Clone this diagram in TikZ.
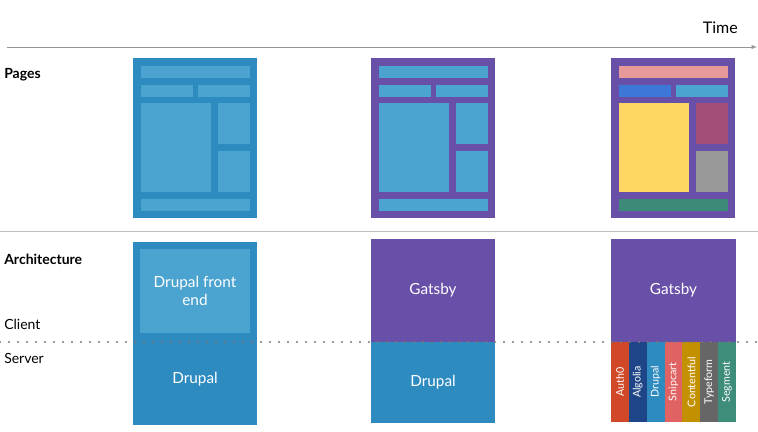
\documentclass[tikz,border=0pt]{standalone}
\usepackage{fontspec}
\setmainfont{Lato}
\usetikzlibrary{arrows.meta}
\definecolor{drupalblue}{RGB}{46,139,192}
\definecolor{liteblue}{RGB}{75,163,208}
\definecolor{gatsbypurple}{RGB}{104,79,167}
\definecolor{axisgray}{RGB}{150,150,150}
\definecolor{rulegray}{RGB}{190,190,190}
\definecolor{dotgray}{RGB}{120,120,120}
\definecolor{pinkbar}{RGB}{232,153,154}
\definecolor{navblue}{RGB}{61,120,216}
\definecolor{yellowblock}{RGB}{253,214,99}
\definecolor{plumblock}{RGB}{163,78,120}
\definecolor{grayblock}{RGB}{153,153,153}
\definecolor{greenbar}{RGB}{62,138,120}
\definecolor{authred}{RGB}{209,72,40}
\definecolor{algoliablue}{RGB}{30,69,135}
\definecolor{snipred}{RGB}{225,98,98}
\definecolor{contentgold}{RGB}{194,144,0}
\definecolor{typegray}{RGB}{102,102,102}
\definecolor{segmentgreen}{RGB}{62,140,122}

\begin{document}
\begin{tikzpicture}[x=0.75pt, y=-0.75pt,
  dim/.style 2 args={minimum width=#1*0.75pt, minimum height=#2*0.75pt},
  block/.style={inner sep=0pt, outer sep=0pt, anchor=north west},
  rowlabel/.style={anchor=west, inner sep=0pt, font=\fontsize{10.5}{12}\selectfont},
  heading/.style={rowlabel, font=\fontsize{10.5}{12}\selectfont\bfseries},
  archtext/.style={text=white, align=center, font=\fontsize{11.5}{14}\selectfont},
  service/.style={inner sep=0pt, outer sep=0pt, rotate=90, text=white, font=\fontsize{8}{9}\selectfont}
]
\useasboundingbox (0,0) rectangle (758,432);

% time axis
\coordinate (t0) at (7,47);
\coordinate (t1) at (757,47);
\draw[axisgray, -{Latex[length=4pt,width=3pt]}] (t0) -- (t1);
\node[anchor=east, inner sep=0pt, font=\fontsize{12}{14}\selectfont] (time) at (738,28) {Time};

% row labels
\node[heading] (pages) at (4,75) {Pages};
\node[heading] (arch) at (4,259) {Architecture};
\node[rowlabel] (client) at (4,324) {Client};
\node[rowlabel] (server) at (4,358) {Server};
\draw[rulegray] (0,231) -- (758,231);

% page wireframes
\foreach \n/\x/\fr/\ta/\na/\nb/\ma/\sa/\sb/\fb in {
  1/133/drupalblue/liteblue/liteblue/liteblue/liteblue/liteblue/liteblue/liteblue,
  2/371/gatsbypurple/liteblue/liteblue/liteblue/liteblue/liteblue/liteblue/liteblue,
  3/611/gatsbypurple/pinkbar/navblue/liteblue/yellowblock/plumblock/grayblock/greenbar}{
  \node[block, fill=\fr, dim={124}{160}] (page\n) at (\x,58) {};
  \node[block, fill=\ta, dim={109}{12}] (top\n) at ({\x+8},66) {};
  \node[block, fill=\na, dim={52}{12}] (nava\n) at ({\x+8},85) {};
  \node[block, fill=\nb, dim={52}{12}] (navb\n) at ({\x+65},85) {};
  \node[block, fill=\ma, dim={70}{89}] (main\n) at ({\x+8},103) {};
  \node[block, fill=\sa, dim={32}{41}] (sidea\n) at ({\x+85},103) {};
  \node[block, fill=\sb, dim={32}{41}] (sideb\n) at ({\x+85},151) {};
  \node[block, fill=\fb, dim={109}{12}] (foot\n) at ({\x+8},199) {};
}

% architecture
\node[block, fill=drupalblue, dim={124}{183}] (arch1) at (133,242) {};
\node[block, fill=liteblue, dim={110}{84}, archtext] (fe1) at (140,249) {Drupal front\\end};
\node[archtext] (be1) at (195,379) {Drupal};

\node[block, fill=gatsbypurple, dim={124}{103}, archtext] (fe2) at (371,239) {Gatsby};
\node[block, fill=drupalblue, dim={124}{81}, archtext] (be2) at (371,342) {Drupal};

\node[block, fill=gatsbypurple, dim={125}{103}, archtext] (fe3) at (611,239) {Gatsby};
\foreach \name/\col [count=\i from 0] in {Auth0/authred, Algolia/algoliablue, Drupal/drupalblue,
  Snipcart/snipred, Contentful/contentgold, Typeform/typegray, Segment/segmentgreen}{
  \node[service, fill=\col, dim={80}{17.86}] (svc\i) at ({611+8.93+17.86*\i},382) {\name};
}

% client / server split
\draw[dotgray, line width=1.6pt, line cap=round, dash pattern=on 0pt off 6.75pt] (0,342) -- (758,342);
\end{tikzpicture}
\end{document}
